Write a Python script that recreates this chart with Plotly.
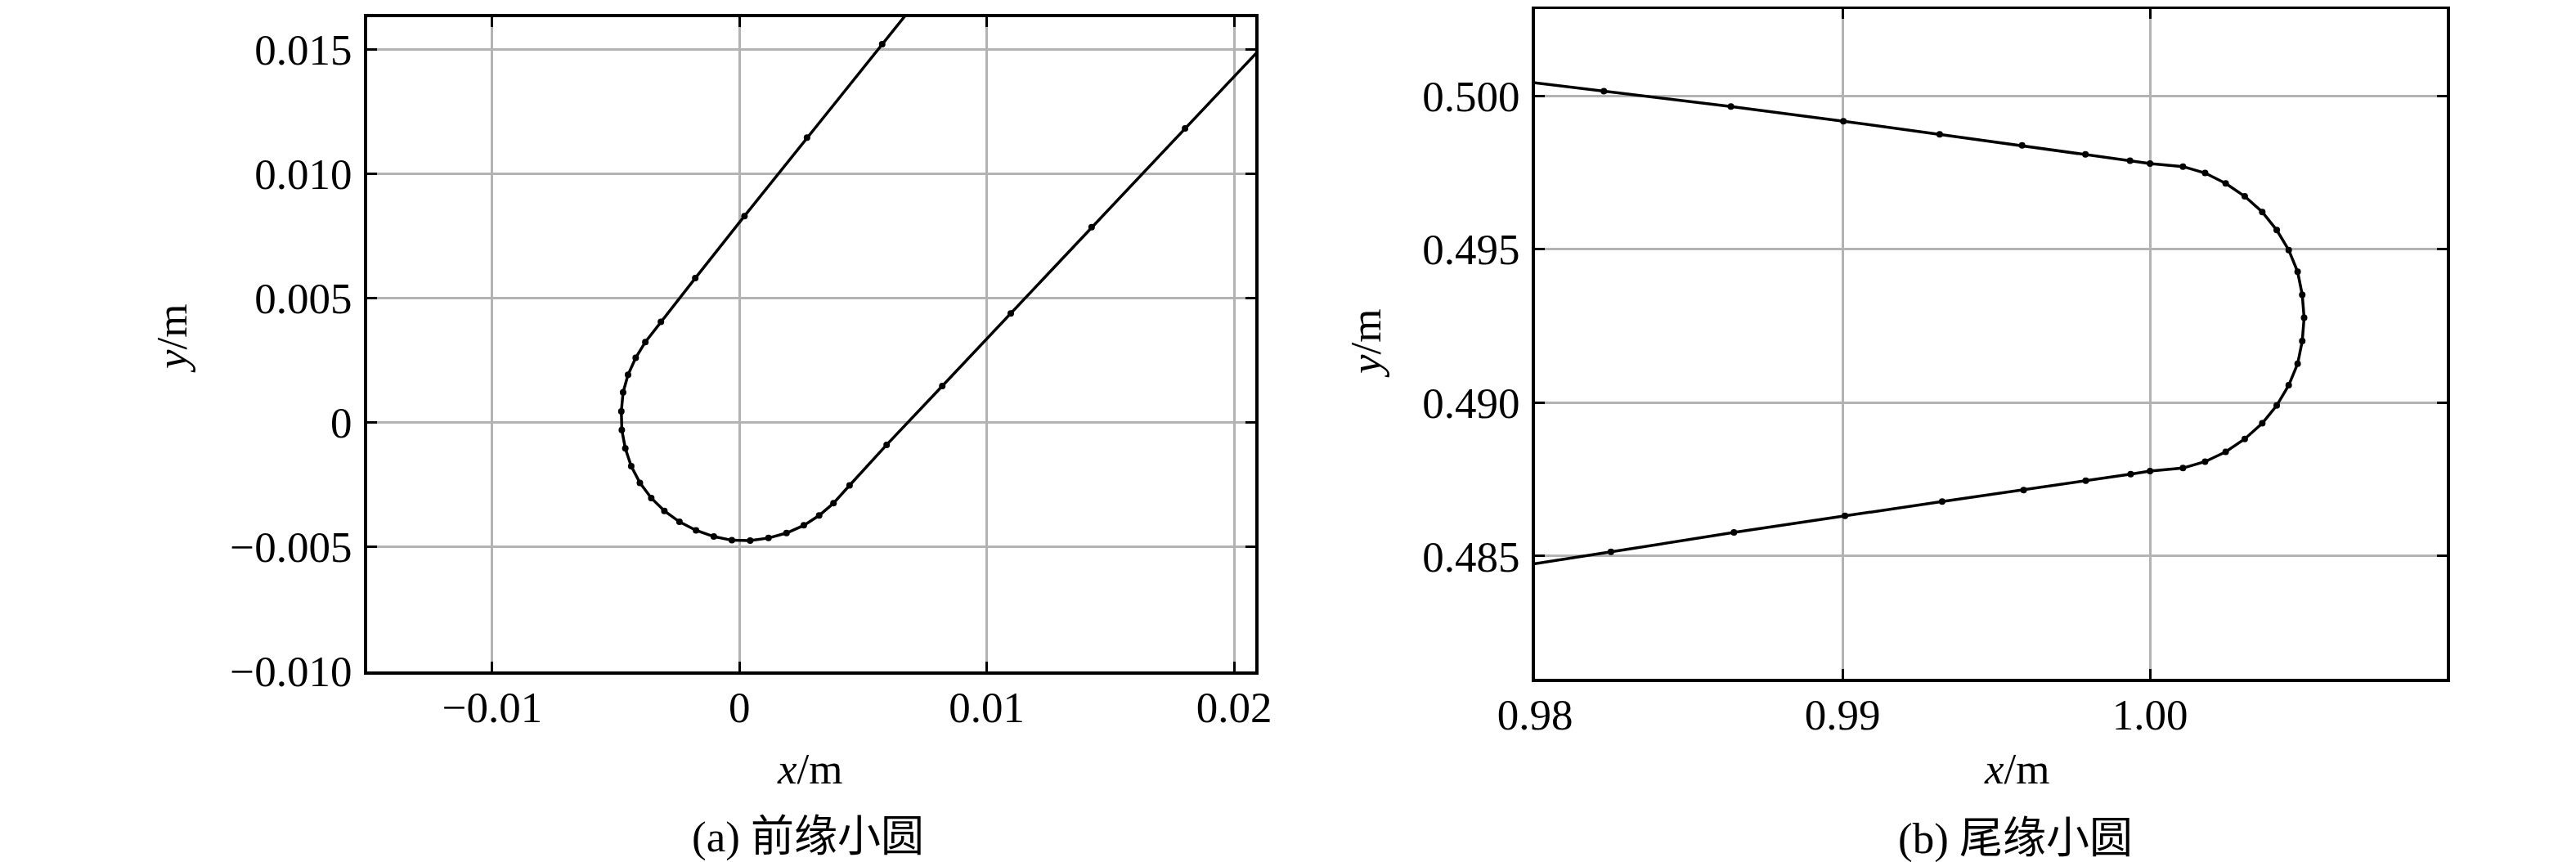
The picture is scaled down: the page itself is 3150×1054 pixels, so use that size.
import plotly.graph_objects as go

# leading edge circle (a)
lead_x = [0.0093, 0.00577, 0.00273, 0.00020, -0.00179, -0.00318, -0.00381, -0.00420,
          -0.00451, -0.00471, -0.00478, -0.00476, -0.00462, -0.00438, -0.00403, -0.00357,
          -0.00304, -0.00243, -0.00176, -0.00104, -0.00031, 0.00043, 0.00117, 0.00190,
          0.00260, 0.00322, 0.00380, 0.00445, 0.00595, 0.00820, 0.01097, 0.01424,
          0.01802, 0.0224]
lead_y = [0.01959, 0.01522, 0.01146, 0.00830, 0.00580, 0.00404, 0.00323, 0.00259,
          0.00191, 0.00120, 0.00044, -0.00031, -0.00105, -0.00177, -0.00244, -0.00305,
          -0.00357, -0.00401, -0.00435, -0.00460, -0.00475, -0.00476, -0.00466, -0.00446,
          -0.00415, -0.00375, -0.00326, -0.00254, -0.00091, 0.00146, 0.00438, 0.00785,
          0.01183, 0.01644]

# trailing edge circle (b)
trail_x = [0.9778, 0.98224, 0.98637, 0.99003, 0.99316, 0.99584, 0.99790, 0.99935,
           1.00000, 1.00107, 1.00179, 1.00246, 1.00308, 1.00365, 1.00412, 1.00451,
           1.00480, 1.00495, 1.00501, 1.00495, 1.00480, 1.00451, 1.00412, 1.00365,
           1.00308, 1.00246, 1.00179, 1.00107, 1.00000, 0.99937, 0.99791, 0.99589,
           0.99324, 0.99008, 0.98647, 0.98247, 0.9780]
trail_y = [0.50070, 0.50016, 0.49966, 0.49918, 0.49875, 0.49839, 0.49810, 0.49789,
           0.49780, 0.49770, 0.49749, 0.49715, 0.49673, 0.49622, 0.49563, 0.49498,
           0.49427, 0.49352, 0.49277, 0.49201, 0.49127, 0.49057, 0.48991, 0.48933,
           0.48882, 0.48840, 0.48808, 0.48787, 0.48777, 0.48767, 0.48746, 0.48715,
           0.48678, 0.48631, 0.48577, 0.48514, 0.48444]

a_xticks = [-0.01, 0, 0.01, 0.02]
a_xlabels = ["\u22120.01", "0", "0.01", "0.02"]
a_yticks = [-0.010, -0.005, 0, 0.005, 0.010, 0.015]
a_ylabels = ["\u22120.010", "\u22120.005", "0", "0.005", "0.010", "0.015"]
b_xticks = [0.98, 0.99, 1.00]
b_xlabels = ["0.98", "0.99", "1.00"]
b_yticks = [0.485, 0.490, 0.495, 0.500]
b_ylabels = ["0.485", "0.490", "0.495", "0.500"]

W, H = 3150, 1054
FONT = "Liberation Serif, Noto Sans CJK SC"
FS = 53

fig = go.Figure()
line = dict(color="black", width=3.5)
marker = dict(color="black", size=8)
fig.add_trace(go.Scatter(x=lead_x, y=lead_y, mode="lines+markers", line=line,
                         marker=marker, xaxis="x", yaxis="y"))
fig.add_trace(go.Scatter(x=trail_x, y=trail_y, mode="lines+markers", line=line,
                         marker=marker, xaxis="x2", yaxis="y2"))

axis_style = dict(showline=True, linecolor="black", linewidth=4, mirror="ticks",
                  ticks="inside", ticklen=12, tickwidth=3, tickcolor="black",
                  showgrid=True, gridcolor="#b3b3b3", gridwidth=2.5, zeroline=False,
                  automargin=False,
                  tickfont=dict(family=FONT, size=FS, color="black"))

fig.update_layout(
    template="none",
    width=W, height=H, margin=dict(l=0, r=0, t=0, b=0, pad=0, autoexpand=False),
    paper_bgcolor="white", plot_bgcolor="white", showlegend=False,
    xaxis=dict(domain=[441 / W, 1527 / W], range=[-0.01506, 0.02086],
               tickvals=a_xticks, ticktext=a_xlabels, anchor="y",
               ticklabelstandoff=-6, **axis_style),
    yaxis=dict(domain=[(H - 813) / H, (H - 12.5) / H], range=[-0.01003, 0.01632],
               tickvals=a_yticks, ticktext=a_ylabels, anchor="x",
               ticklabelstandoff=4, **axis_style),
    xaxis2=dict(domain=[1869 / W, 2984 / W], range=[0.98, 1.00965],
                tickvals=b_xticks, ticktext=b_xlabels, anchor="y2",
                ticklabelstandoff=-6, **axis_style),
    yaxis2=dict(domain=[(H - 822) / H, (H - 2.5) / H], range=[0.48100, 0.50285],
                tickvals=b_yticks, ticktext=b_ylabels, anchor="x2",
                ticklabelstandoff=4, **axis_style),
)

def note(text, x, y, angle=0):
    fig.add_annotation(text=text, x=x / W, y=1 - y / H, xref="paper", yref="paper",
                       showarrow=False, textangle=angle, xanchor="center", yanchor="middle",
                       font=dict(family=FONT, size=FS, color="black"))

note("<i>y</i>/m", 202, 406, -90)
note("<i>y</i>/m", 1662, 412, -90)
note("<i>x</i>/m", 982, 932)
note("<i>x</i>/m", 2458, 932)
note("(a) 前缘小圆", 980, 1015)
note("(b) 尾缘小圆", 2456, 1017)

fig.write_html("out.html")
